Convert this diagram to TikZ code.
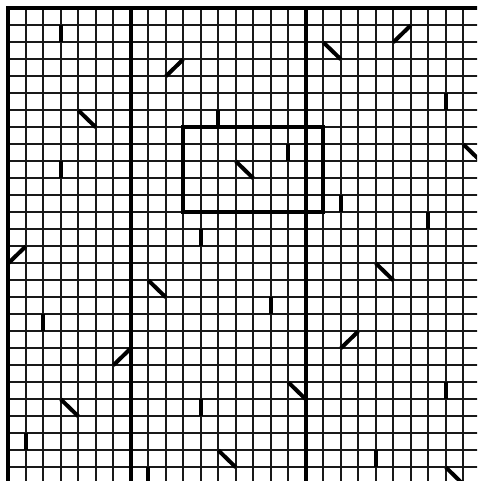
\documentclass[tikz,border=0pt]{standalone}
\begin{document}
\begin{tikzpicture}[
  thinline/.style={line width=2pt,black!90},
  majorline/.style={line width=4pt,black},
  markline/.style={line width=4.2pt,black},
  diagline/.style={line width=4pt,black,line cap=butt},
  framebox/.style={line width=4pt,black}
]
% page: 477 x 481 px, 1px = 1pt
\useasboundingbox (0pt,0pt) rectangle (477pt,-481pt);
\clip (0pt,0pt) rectangle (477pt,-481pt);
\begin{scope}[shift={(8.3pt,-8.3pt)},x=17.5pt,y=-17pt]
  % thin grid
  \foreach \i in {1,...,26}
    \draw[thinline] (\i,0) -- (\i,28);
  \foreach \j in {1,...,27}
    \draw[thinline] (0,\j) -- (27,\j);
  % major lines
  \draw[majorline] (0,28.2) -- (0,0) -- (27.2,0);
  \draw[majorline] (7,0) -- (7,28.2);
  \draw[majorline] (17,0) -- (17,28.2);
  % framed rectangle
  \draw[framebox] (10,7) rectangle (18,12);
  % short thick vertical marks
  \foreach \i/\j in {3/1,12/6,16/8,25/5,3/9,7/12,11/13,19/11,24/12,15/17,2/18,1/25,8/27,11/23,25/22,21/26}
    \draw[markline] (\i,\j) -- (\i,\j+1);
  % diagonal marks, falling
  \foreach \i/\j in {4/6,18/2,26/8,8/16,13/9,21/15,3/23,16/22,12/26,25/27}
    \draw[diagline] (\i,\j) -- (\i+1,\j+1);
  % diagonal marks, rising
  \foreach \i/\j in {9/4,22/2,0/15,6/21,19/20}
    \draw[diagline] (\i,\j) -- (\i+1,\j-1);
\end{scope}
\end{tikzpicture}
\end{document}
